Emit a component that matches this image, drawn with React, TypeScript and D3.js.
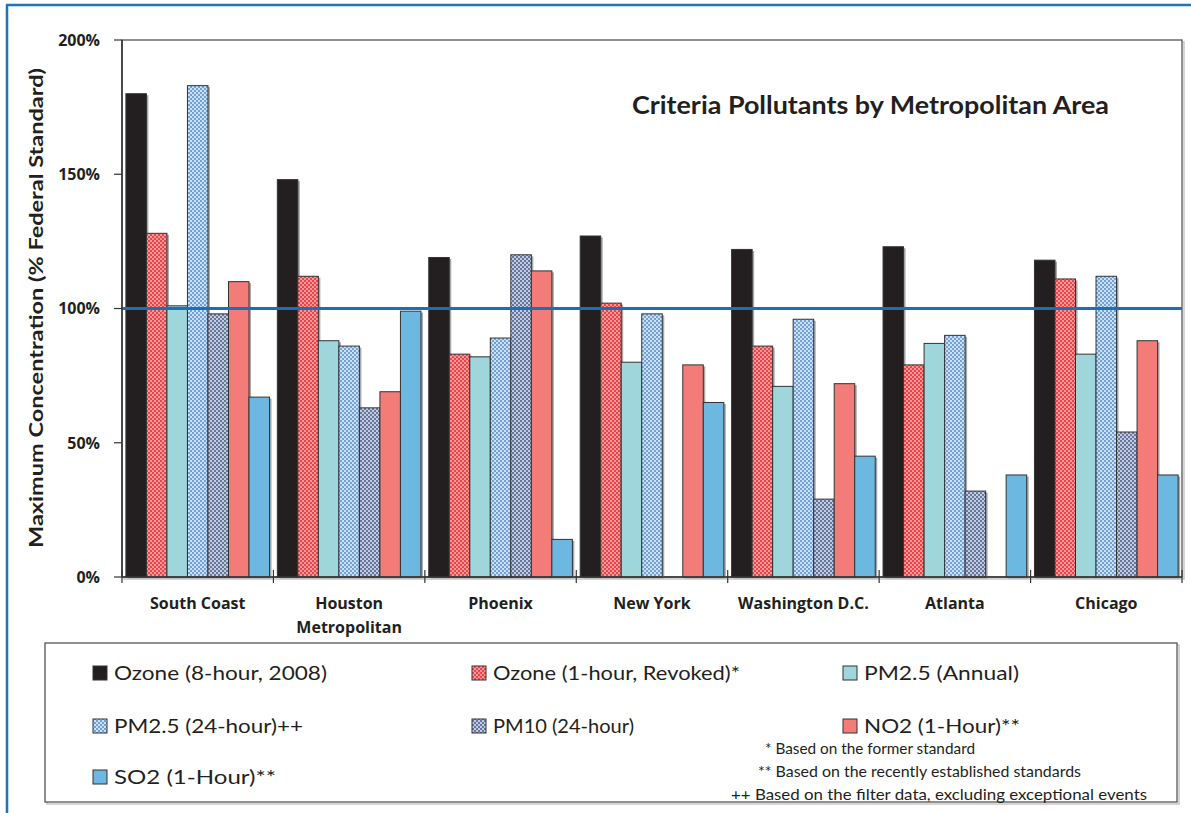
import React from 'react';
import * as d3 from 'd3';

const categories = ['South Coast', 'Houston Metropolitan', 'Phoenix', 'New York', 'Washington D.C.', 'Atlanta', 'Chicago'];
const seriesNames = [
  'Ozone (8-hour, 2008)',
  'Ozone (1-hour, Revoked)*',
  'PM2.5 (Annual)',
  'PM2.5 (24-hour)++',
  'PM10 (24-hour)',
  'NO2 (1-Hour)**',
  'SO2 (1-Hour)**',
];
const ozone8 = [180, 148, 119, 127, 122, 123, 118];
const ozone1 = [128, 112, 83, 102, 86, 79, 111];
const pm25Annual = [101, 88, 82, 80, 71, 87, 83];
const pm25Daily = [183, 86, 89, 98, 96, 90, 112];
const pm10 = [98, 63, 120, null, 29, 32, 54];
const no2 = [110, 69, 114, 79, 72, null, 88];
const so2 = [67, 99, 14, 65, 45, 38, 38];
const yTicks = [0, 50, 100, 150, 200];
const footnotes = [
  '* Based on the former standard',
  '** Based on the recently established standards',
  '++  Based on the filter data, excluding exceptional events',
];

const seriesValues = [ozone8, ozone1, pm25Annual, pm25Daily, pm10, no2, so2];
const fills = ['#231f20', 'url(#patRed)', '#9ed6dc', 'url(#patBlue)', 'url(#patGray)', '#f37c78', '#6cb8e0'];

const W = 1191;
const H = 813;
const plot = { left: 122, right: 1182, top: 40, bottom: 577 };
const font = 'Lato, "Open Sans", sans-serif';
const boldFont = '"Open Sans", Lato, sans-serif';

// layout of the legend (marker position and text width per item)
const legendPos = [
  { x: 93, y: 673, w: 213 },
  { x: 472, y: 673, w: 247 },
  { x: 843, y: 673, w: 155 },
  { x: 93, y: 726, w: 189 },
  { x: 472, y: 726, w: 141 },
  { x: 843, y: 726, w: 156 },
  { x: 93, y: 777, w: 162 },
];
const footPos = [
  { x: 765, w: 210 },
  { x: 758, w: 323 },
  { x: 731, w: 416 },
];

export default function App() {
  const x = d3.scaleBand<string>().domain(categories).range([plot.left, plot.right]).padding(0);
  const xs = d3.scaleBand<string>().domain(seriesNames).range([0, x.bandwidth()]).paddingInner(0).paddingOuter(0.19);
  const y = d3.scaleLinear().domain([0, 200]).range([plot.bottom, plot.top]);

  return (
    <svg width={W} height={H} style={{ position: 'absolute', left: 0, top: 0, background: '#fff' }}>
      <defs>
        <pattern id="patRed" width="4" height="4" patternUnits="userSpaceOnUse">
          <rect width="4" height="4" fill="#f59a9b" />
          <rect width="2" height="2" fill="#ec4449" />
          <rect x="2" y="2" width="2" height="2" fill="#ec4449" />
        </pattern>
        <pattern id="patBlue" width="4" height="4" patternUnits="userSpaceOnUse">
          <rect width="4" height="4" fill="#cfe0f2" />
          <rect width="2" height="2" fill="#6fa2da" />
          <rect x="2" y="2" width="2" height="2" fill="#6fa2da" />
        </pattern>
        <pattern id="patGray" width="4" height="4" patternUnits="userSpaceOnUse">
          <rect width="4" height="4" fill="#c4cbdd" />
          <rect width="2" height="2" fill="#66779f" />
          <rect x="2" y="2" width="2" height="2" fill="#66779f" />
        </pattern>
      </defs>

      {/* outer blue frame */}
      <line x1={7} y1={5} x2={7} y2={H} stroke="#1b75bb" strokeWidth={2.5} />
      <line x1={6} y1={5} x2={W} y2={5} stroke="#1b75bb" strokeWidth={2.5} />

      {/* plot frame */}
      <rect x={plot.left + 2} y={plot.top + 2} width={plot.right - plot.left} height={plot.bottom - plot.top} fill="none" stroke="#c8c8c8" strokeWidth={1.5} />
      <rect x={plot.left} y={plot.top} width={plot.right - plot.left} height={plot.bottom - plot.top} fill="#fff" stroke="#555" strokeWidth={1.3} />

      {/* bars */}
      {seriesValues.map((vals, si) =>
        vals.map((v, ci) => {
          if (v == null) return null;
          const bx = (x(categories[ci]) as number) + (xs(seriesNames[si]) as number);
          const by = y(v);
          const bw = xs.bandwidth();
          return (
            <g key={`${si}-${ci}`}>
              <rect x={bx + 2} y={by + 1.5} width={bw} height={plot.bottom - by} fill="#a8a8a8" />
              <rect x={bx} y={by} width={bw} height={plot.bottom - by} fill={fills[si]} stroke="#333" strokeWidth={1} />
            </g>
          );
        })
      )}

      {/* 100% line */}
      <line x1={plot.left} x2={plot.right} y1={y(100)} y2={y(100)} stroke="#1b6fb5" strokeWidth={3} />

      {/* y axis */}
      <line x1={plot.left} x2={plot.left} y1={plot.top} y2={plot.bottom} stroke="#333" strokeWidth={1.5} />
      {yTicks.map((t) => (
        <g key={t}>
          <line x1={plot.left - 8} x2={plot.left} y1={y(t)} y2={y(t)} stroke="#333" strokeWidth={1.2} />
          <text x={100} y={y(t)} dy="0.36em" textAnchor="end" fontFamily={boldFont} fontWeight="bold" fontSize={16} fill="#231f20">
            {`${t}%`}
          </text>
        </g>
      ))}
      <text
        transform={`translate(36,${(68 + 548) / 2}) rotate(-90)`}
        textAnchor="middle"
        dy="0.35em"
        fontFamily={font}
        fontWeight="bold"
        fontSize={19}
        textLength={480}
        lengthAdjust="spacingAndGlyphs"
        fill="#231f20"
      >
        Maximum Concentration (% Federal Standard)
      </text>

      {/* x axis */}
      <line x1={plot.left} x2={plot.right} y1={plot.bottom} y2={plot.bottom} stroke="#333" strokeWidth={1.5} />
      {categories.map((c, i) => {
        const gx = x(c) as number;
        const lines = c === 'Houston Metropolitan' ? ['Houston', 'Metropolitan'] : [c];
        return (
          <g key={c}>
            <line x1={gx} x2={gx} y1={plot.bottom - 7} y2={plot.bottom + 6} stroke="#333" strokeWidth={1.2} />
            {lines.map((l, li) => (
              <text key={l} x={gx + x.bandwidth() / 2} y={609 + li * 24} textAnchor="middle" fontFamily={boldFont} fontWeight="bold" fontSize={16} fill="#231f20">
                {l}
              </text>
            ))}
            {i === categories.length - 1 && (
              <line x1={plot.right} x2={plot.right} y1={plot.bottom - 7} y2={plot.bottom + 6} stroke="#333" strokeWidth={1.2} />
            )}
          </g>
        );
      })}

      {/* title */}
      <text x={632} y={114} fontFamily={font} fontWeight="bold" fontSize={24} textLength={477} lengthAdjust="spacingAndGlyphs" fill="#231f20">
        Criteria Pollutants by Metropolitan Area
      </text>

      {/* legend */}
      <rect x={47} y={645} width={1132} height={159} fill="none" stroke="#c8c8c8" strokeWidth={1.5} />
      <rect x={45} y={643} width={1132} height={159} fill="#fff" stroke="#555" strokeWidth={1.3} />
      {seriesNames.map((s, i) => (
        <g key={s}>
          <rect x={legendPos[i].x} y={legendPos[i].y - 7} width={14} height={14} fill={fills[i]} stroke="#333" strokeWidth={1} />
          <text
            x={legendPos[i].x + 21}
            y={legendPos[i].y}
            dy="0.35em"
            fontFamily={font}
            fontSize={20}
            textLength={legendPos[i].w}
            lengthAdjust="spacingAndGlyphs"
            fill="#231f20"
          >
            {s}
          </text>
        </g>
      ))}
      {footnotes.map((f, i) => (
        <text
          key={f}
          x={footPos[i].x}
          y={754 + i * 23}
          fontFamily={font}
          fontSize={15}
          textLength={footPos[i].w}
          lengthAdjust="spacingAndGlyphs"
          fill="#231f20"
        >
          {f}
        </text>
      ))}
    </svg>
  );
}
